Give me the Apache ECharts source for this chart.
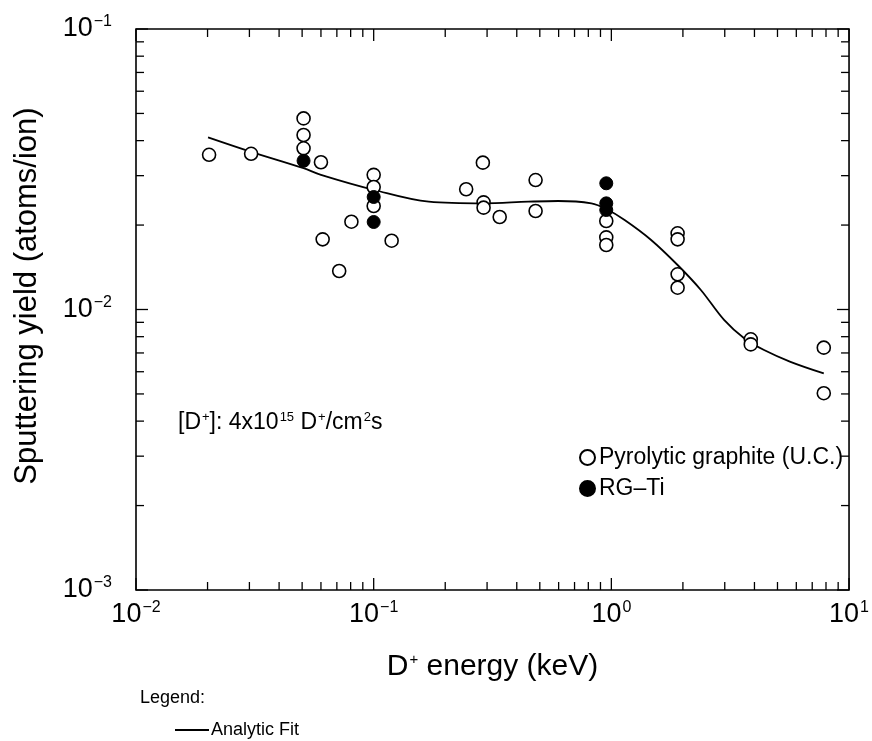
<!DOCTYPE html>
<html>
<head>
<meta charset="utf-8">
<title>Sputtering yield vs D+ energy</title>
<script src="https://cdn.jsdelivr.net/npm/echarts@6/dist/echarts.min.js"></script>
<style>
  html, body { margin: 0; padding: 0; background: #fff; }
  #chart { width: 872px; height: 741px; }
</style>
</head>
<body>
<div id="chart"></div>
<script>
// Pyrolytic graphite (U.C.) measurements: energy (keV) and yield (atoms/ion)
const pyroEnergy = [0.0203, 0.0305, 0.0507, 0.0507, 0.0507, 0.060, 0.061, 0.0806, 0.0716,
  0.1, 0.1, 0.1, 0.119, 0.245, 0.288, 0.29, 0.29, 0.339, 0.48, 0.48,
  0.952, 0.952, 0.952, 1.90, 1.90, 1.90, 1.90, 3.86, 3.86, 7.83, 7.83];
const pyroYield = [0.0356, 0.0359, 0.0480, 0.0419, 0.03755, 0.0335, 0.01779, 0.02056, 0.01372,
  0.0302, 0.02734, 0.02339, 0.01759, 0.02683, 0.03338, 0.0241, 0.02307, 0.02137, 0.02894, 0.02245,
  0.02068, 0.01808, 0.01698, 0.01869, 0.01779, 0.01335, 0.01196, 0.00783, 0.00751, 0.00731, 0.00503];

// RG-Ti measurements
const rgEnergy = [0.0507, 0.1, 0.1, 0.952, 0.952, 0.952];
const rgYield = [0.0339, 0.02518, 0.02051, 0.02818, 0.0239, 0.02263];

// Analytic fit curve
const fitEnergy = [0.0201, 0.0305, 0.0507, 0.060, 0.1006, 0.1705, 0.29, 0.447, 0.5975, 0.824,
  0.952, 1.137, 1.47, 1.90, 2.38, 2.98, 3.62, 4.39, 5.67, 7.83];
const fitYield = [0.0411, 0.0365, 0.0319, 0.0302, 0.02667, 0.02423, 0.0239, 0.02423, 0.02437, 0.0239,
  0.02282, 0.02085, 0.0177, 0.01441, 0.01174, 0.00918, 0.0079, 0.00717, 0.00651, 0.00592];

// Axis ranges (decades)
const xDecades = [0.01, 0.1, 1, 10];
const yDecades = [0.001, 0.01, 0.1];

const FONT = '"Liberation Sans", Arial, Helvetica, sans-serif';

const zip = (a, b) => a.map((v, i) => [v, b[i]]);

// Minor tick values 2..9 x 10^k inside each decade
function minorTicks(decades) {
  const out = [];
  for (let i = 0; i < decades.length - 1; i++) {
    for (let m = 2; m <= 9; m++) out.push(decades[i] * m);
  }
  return out;
}
const xMinor = minorTicks(xDecades);
const yMinor = minorTicks(yDecades);

function powLabel(v) {
  const e = Math.round(Math.log10(v));
  return '{b|10}{s|' + (e < 0 ? '\u2212' + (-e) : e) + '}';
}
const labelRich = {
  b: { fontSize: 27, fontFamily: FONT, color: '#000' },
  s: { fontSize: 16, fontFamily: FONT, color: '#000', verticalAlign: 'bottom', padding: [0, 0, 14, 1] }
};

// Inward ticks on all four sides of the frame, drawn through the axis scales
const tickItems = [];
xDecades.forEach(v => tickItems.push({ axis: 'x', v: v, len: 12 }));
xMinor.forEach(v => tickItems.push({ axis: 'x', v: v, len: 8 }));
yDecades.forEach(v => tickItems.push({ axis: 'y', v: v, len: 12 }));
yMinor.forEach(v => tickItems.push({ axis: 'y', v: v, len: 8 }));

function renderTick(params, api) {
  const it = tickItems[params.dataIndex];
  const cs = params.coordSys;
  const top = cs.y, bottom = cs.y + cs.height, left = cs.x, right = cs.x + cs.width;
  const style = { stroke: '#000', lineWidth: 1.3 };
  if (it.axis === 'x') {
    const px = api.coord([it.v, 0.01])[0];
    return { type: 'group', children: [
      { type: 'line', shape: { x1: px, y1: bottom, x2: px, y2: bottom - it.len }, style: style },
      { type: 'line', shape: { x1: px, y1: top, x2: px, y2: top + it.len }, style: style }
    ] };
  }
  const py = api.coord([1, it.v])[1];
  return { type: 'group', children: [
    { type: 'line', shape: { x1: left, y1: py, x2: left + it.len, y2: py }, style: style },
    { type: 'line', shape: { x1: right, y1: py, x2: right - it.len, y2: py }, style: style }
  ] };
}

const chart = echarts.init(document.getElementById('chart'), null, { renderer: 'canvas' });

chart.setOption({
  animation: false,
  backgroundColor: '#fff',
  textStyle: { fontFamily: FONT, color: '#000' },
  grid: {
    left: 136, right: 20, top: 29, bottom: 151,
    show: true, borderColor: '#000', borderWidth: 1.6, backgroundColor: 'transparent'
  },
  xAxis: {
    type: 'log', logBase: 10, min: 0.01, max: 10,
    axisLine: { show: false },
    axisTick: { show: false },
    splitLine: { show: false },
    axisLabel: { formatter: powLabel, rich: labelRich, margin: 10 },
    name: '{b|D}{s|+}{b| energy (keV)}',
    nameLocation: 'middle', nameGap: 62,
    nameTextStyle: {
      rich: {
        b: { fontSize: 30, fontFamily: FONT, color: '#000' },
        s: { fontSize: 15, fontFamily: FONT, color: '#000', verticalAlign: 'bottom', padding: [0, 0, 15, 1] }
      }
    }
  },
  yAxis: {
    type: 'log', logBase: 10, min: 0.001, max: 0.1,
    axisLine: { show: false },
    axisTick: { show: false },
    splitLine: { show: false },
    axisLabel: { formatter: powLabel, rich: labelRich, margin: 24 }
  },
  legend: [
    {
      data: ['Pyrolytic graphite (U.C.)', 'RG\u2013Ti'],
      orient: 'vertical', left: 574, top: 441, itemGap: 8,
      itemWidth: 15, itemHeight: 15,
      textStyle: { fontSize: 23, fontFamily: FONT, color: '#000', padding: [0, 0, 0, -1] }
    },
    {
      data: ['Analytic Fit'],
      left: 170, top: 716, itemWidth: 34, itemHeight: 2, itemGap: 4,
      icon: 'rect',
      textStyle: { fontSize: 18, fontFamily: FONT, color: '#000', padding: [0, 0, 0, -3] }
    }
  ],
  graphic: [
    {
      type: 'text',
      x: 27, y: 296, rotation: Math.PI / 2,
      style: {
        text: 'Sputtering yield (atoms/ion)',
        font: '31px ' + FONT, fill: '#000',
        textAlign: 'center', textVerticalAlign: 'middle'
      }
    },
    {
      type: 'text', x: 178, y: 423,
      style: {
        text: '{b|[D}{s|+}{b|]: 4x10}{s|15}{b| D}{s|+}{b|/cm}{s|2}{b|s}',
        textVerticalAlign: 'middle',
        rich: {
          b: { fontSize: 23, fontFamily: FONT, fill: '#000' },
          s: { fontSize: 13, fontFamily: FONT, fill: '#000', verticalAlign: 'bottom', padding: [0, 0, 12, 1] }
        }
      }
    },
    {
      type: 'text', x: 140, y: 698,
      style: { text: 'Legend:', font: '18px ' + FONT, fill: '#000', textVerticalAlign: 'middle' }
    }
  ],
  series: [
    {
      name: 'ticks', type: 'custom', renderItem: renderTick,
      data: tickItems.map((t, i) => i), silent: true, z: 1, clip: false
    },
    {
      name: 'Analytic Fit', type: 'line', data: zip(fitEnergy, fitYield),
      smooth: 0.35, showSymbol: false, symbol: 'none',
      lineStyle: { color: '#000', width: 1.8 }, itemStyle: { color: '#000' }, z: 2
    },
    {
      name: 'Pyrolytic graphite (U.C.)', type: 'scatter', data: zip(pyroEnergy, pyroYield),
      symbol: 'circle', symbolSize: 13,
      itemStyle: { color: '#fff', borderColor: '#000', borderWidth: 1.6, opacity: 1 }, z: 3
    },
    {
      name: 'RG\u2013Ti', type: 'scatter', data: zip(rgEnergy, rgYield),
      symbol: 'circle', symbolSize: 13,
      itemStyle: { color: '#000', borderColor: '#000', borderWidth: 1, opacity: 1 }, z: 4
    }
  ]
});
</script>
</body>
</html>
